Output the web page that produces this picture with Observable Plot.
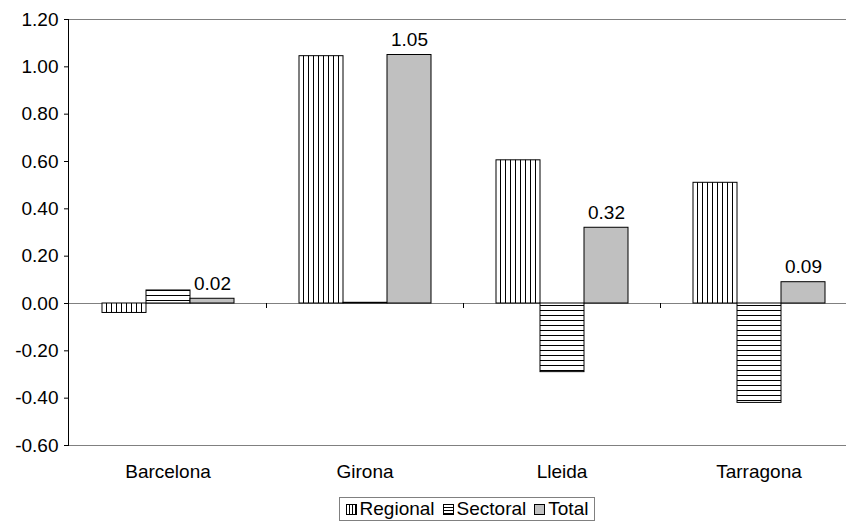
<!DOCTYPE html>
<html>
<head>
<meta charset="utf-8">
<script src="https://cdn.jsdelivr.net/npm/d3@7"></script>
<script src="https://cdn.jsdelivr.net/npm/@observablehq/plot@0.6"></script>
<style>
  html, body { margin: 0; padding: 0; background: #fff; overflow: hidden; width: 846px; height: 523px; }
  #chart { position: relative; width: 846px; height: 523px; overflow: hidden; font-family: "Liberation Sans", Arial, sans-serif; }
  #chart > svg { max-width: none !important; display: block; }
  #legend { position: absolute; left: 339px; top: 497px; width: 256px; height: 24px; border: 1px solid #808080; display: flex; align-items: center; justify-content: center; padding: 0; font-size: 19px; color: #000; white-space: nowrap; box-sizing: border-box; }
  #legend .item { display: flex; align-items: center; margin-right: 8px; }
  #legend .item:last-child { margin-right: 0; }
  #legend svg { margin-right: 3px; }
</style>
</head>
<body>
<div id="chart"></div>
<script>
const categories = ["Barcelona", "Girona", "Lleida", "Tarragona"];
const seriesNames = ["Regional", "Sectoral", "Total"];
const regional = [-0.04, 1.045, 0.605, 0.51];
const sectoral = [0.055, 0.003, -0.29, -0.42];
const total = [0.02, 1.05, 0.32, 0.09];
const yTicks = [-0.6, -0.4, -0.2, 0, 0.2, 0.4, 0.6, 0.8, 1.0, 1.2];

const fills = {Regional: "url(#pat-vert)", Sectoral: "url(#pat-horiz)", Total: "#C0C0C0"};
const seriesValues = {Regional: regional, Sectoral: sectoral, Total: total};

const data = [];
categories.forEach((c, i) => {
  seriesNames.forEach(s => data.push({category: c, series: s, value: seriesValues[s][i]}));
});

const W = 858, H = 490;
const plot = Plot.plot({
  width: W,
  height: H,
  marginLeft: 68,
  marginRight: 0,
  marginTop: 19,
  marginBottom: 45,
  style: {fontFamily: "Liberation Sans, Arial, sans-serif", fontSize: "19px", color: "#000", background: "#fff", maxWidth: "none"},
  fx: {domain: categories, padding: 0, label: null, tickSize: 0, tickPadding: 19},
  x: {domain: seriesNames, paddingInner: 0, paddingOuter: 0.72, axis: null},
  y: {domain: [-0.6, 1.2], ticks: yTicks, tickFormat: d => d.toFixed(2), label: null, tickSize: 5, tickPadding: 6},
  marks: [
    Plot.ruleY([1.2, -0.6], {stroke: "#808080", strokeWidth: 1}),
    Plot.ruleY([0], {stroke: "#808080", strokeWidth: 1}),
    ...seriesNames.map(s => Plot.barY(data.filter(d => d.series === s), {
      fx: "category", x: "series", y: "value",
      fill: fills[s], stroke: "#000", strokeWidth: 1
    })),
    Plot.text(data.filter(d => d.series === "Total"), {
      fx: "category", x: "series", y: "value",
      text: d => d.value.toFixed(2), dy: -15, fontSize: 19, fill: "#000"
    }),
    Plot.axisY({ticks: yTicks, tickFormat: d => d.toFixed(2), tickSize: 5, tickPadding: 6, stroke: "#000", fontSize: 19})
  ]
});

const svg = d3.select(plot);
// pattern definitions
const defs = svg.insert("defs", ":first-child");
const pv = defs.append("pattern").attr("id", "pat-vert").attr("patternUnits", "userSpaceOnUse").attr("width", 5).attr("height", 5);
pv.append("rect").attr("width", 5).attr("height", 5).attr("fill", "#fff");
pv.append("path").attr("d", "M0.5,0V5").attr("stroke", "#000").attr("stroke-width", 1);
const ph = defs.append("pattern").attr("id", "pat-horiz").attr("patternUnits", "userSpaceOnUse").attr("width", 5).attr("height", 5);
ph.append("rect").attr("width", 5).attr("height", 5).attr("fill", "#fff");
ph.append("path").attr("d", "M0,0.5H5").attr("stroke", "#000").attr("stroke-width", 1);

// y-axis line and category boundary ticks using Plot's scales
const fx = plot.scale("fx"), y = plot.scale("y");
const y0 = y.apply(0);
const g = svg.append("g").attr("stroke", "#000").attr("stroke-width", 1);
g.append("line").attr("x1", 68.5).attr("x2", 68.5).attr("y1", y.apply(1.2)).attr("y2", y.apply(-0.6));
categories.slice(1).forEach(c => {
  const xb = Math.round(fx.apply(c)) + 0.5;
  g.append("line").attr("x1", xb).attr("x2", xb).attr("y1", y0).attr("y2", y0 + 5);
});

document.getElementById("chart").appendChild(plot);

// legend
const legend = d3.select("#chart").append("div").attr("id", "legend");
seriesNames.forEach(s => {
  const item = legend.append("div").attr("class", "item");
  const sw = item.append("svg").attr("width", 11).attr("height", 11);
  const sd = sw.append("defs");
  if (s === "Regional") {
    const p = sd.append("pattern").attr("id", "lg-v").attr("patternUnits", "userSpaceOnUse").attr("width", 3).attr("height", 3);
    p.append("rect").attr("width", 3).attr("height", 3).attr("fill", "#fff");
    p.append("path").attr("d", "M0.5,0V3").attr("stroke", "#000");
  } else if (s === "Sectoral") {
    const p = sd.append("pattern").attr("id", "lg-h").attr("patternUnits", "userSpaceOnUse").attr("width", 3).attr("height", 3);
    p.append("rect").attr("width", 3).attr("height", 3).attr("fill", "#fff");
    p.append("path").attr("d", "M0,0.5H3").attr("stroke", "#000");
  }
  sw.append("rect").attr("x", 0.5).attr("y", 0.5).attr("width", 10).attr("height", 10)
    .attr("fill", s === "Regional" ? "url(#lg-v)" : s === "Sectoral" ? "url(#lg-h)" : "#C0C0C0")
    .attr("stroke", "#000");
  item.append("span").text(s);
});
</script>
</body>
</html>
